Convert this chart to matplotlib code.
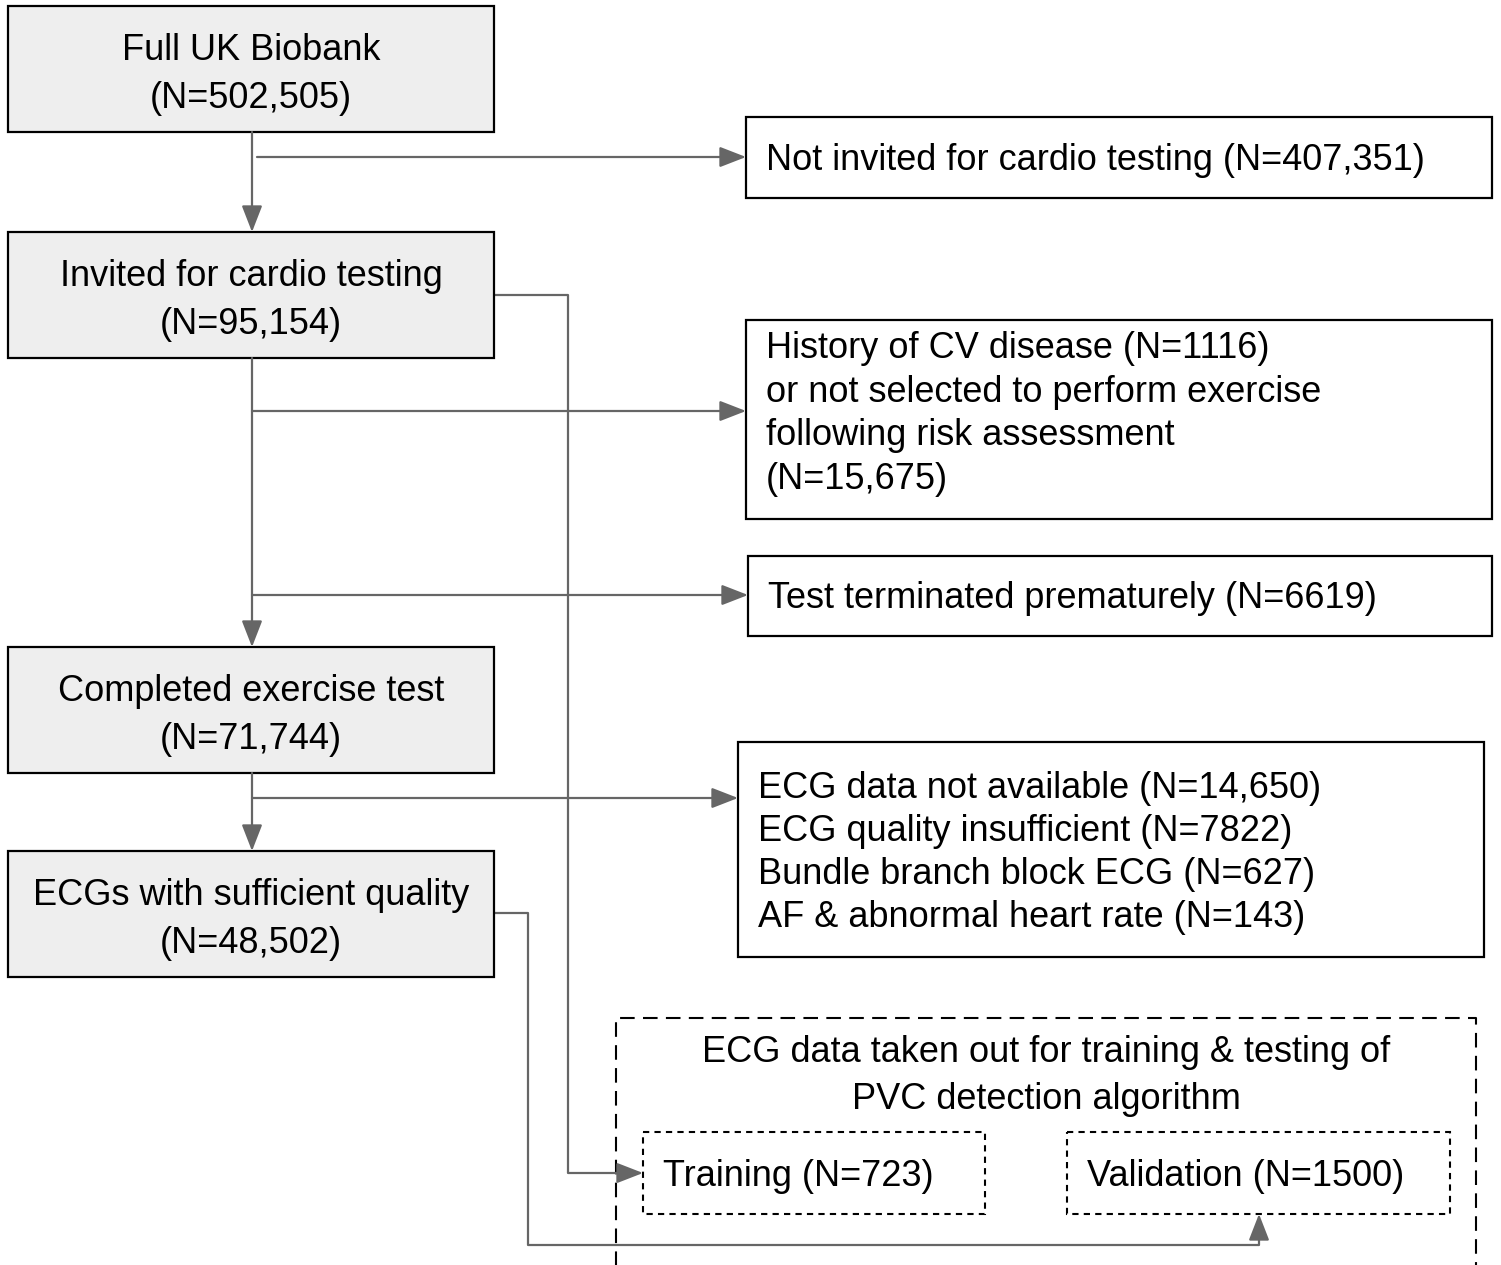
import matplotlib
matplotlib.use("Agg")
import matplotlib.pyplot as plt
from matplotlib.patches import Rectangle

plt.rcParams['font.family'] = ['Liberation Sans', 'DejaVu Sans']

# ---- flowchart text (data) ----
main_labels = ['Full UK Biobank\n(N=502,505)',
               'Invited for cardio testing\n(N=95,154)',
               'Completed exercise test\n(N=71,744)',
               'ECGs with sufficient quality\n(N=48,502)']
excl_labels = ['Not invited for cardio testing (N=407,351)',
               'History of CV disease (N=1116)\nor not selected to perform exercise\nfollowing risk assessment\n(N=15,675)',
               'Test terminated prematurely (N=6619)',
               'ECG data not available (N=14,650)\nECG quality insufficient (N=7822)\n'
               'Bundle branch block ECG (N=627)\nAF & abnormal heart rate (N=143)']
group_label = 'ECG data taken out for training & testing of\nPVC detection algorithm'
split_labels = ['Training (N=723)', 'Validation (N=1500)']

# ---- layout in pixel coords (x0, y0, x1, y1) ----
main_boxes = [(8, 6, 494, 132), (8, 232, 494, 358), (8, 647, 494, 773), (8, 851, 494, 977)]
excl_boxes = [(746, 117, 1492, 198), (746, 320, 1492, 519), (748, 556, 1492, 636), (738, 742, 1484, 957)]
excl_spacing = [1.25, 1.31, 1.25, 1.3]
excl_dy = [3, -5.5, 3, 3.5]
split_boxes = [(643, 1132, 985, 1214), (1067, 1132, 1450, 1214)]

W, H = 1501, 1265
fig = plt.figure(figsize=(W / 100, H / 100), dpi=100)
ax = fig.add_axes([0, 0, 1, 1])
ax.set_xlim(0, W)
ax.set_ylim(H, 0)
ax.axis('off')

FS = 26
LC = '#666666'


def box(b, fc='white', ls='-', lw=1.6):
    x0, y0, x1, y1 = b
    ax.add_patch(Rectangle((x0, y0), x1 - x0, y1 - y0, facecolor=fc,
                           edgecolor='black', lw=lw, linestyle=ls, zorder=2))


def arrow(pts):
    xs = [p[0] for p in pts]
    ys = [p[1] for p in pts]
    ax.plot(xs[:-1], ys[:-1], color=LC, lw=1.6, solid_capstyle='butt', zorder=1)
    ax.annotate('', xy=pts[-1], xytext=pts[-2],
                arrowprops=dict(arrowstyle='-|>,head_length=0.9,head_width=0.35',
                                color=LC, lw=1.6, shrinkA=0, shrinkB=0,
                                mutation_scale=18), zorder=3)


for b, lab in zip(main_boxes, main_labels):
    box(b, fc='#eeeeee')
    ax.text((b[0] + b[2]) / 2, (b[1] + b[3]) / 2 + 5.5, lab, ha='center', va='center',
            fontsize=FS, linespacing=1.5, zorder=4)

for b, lab, sp, dy in zip(excl_boxes, excl_labels, excl_spacing, excl_dy):
    box(b)
    ax.text(b[0] + 20, (b[1] + b[3]) / 2 + dy, lab, ha='left', va='center',
            fontsize=FS, linespacing=sp, zorder=4)

# dashed group box, open at the bottom
dash_long = (0, (7, 4))
ax.plot([616, 616, 1476, 1476], [H + 5, 1018, 1018, H + 5], color='black',
        lw=1.5, linestyle=dash_long, zorder=2)
ax.text(1046, 1076, group_label, ha='center', va='center', fontsize=FS,
        linespacing=1.41, zorder=4)

for b, lab in zip(split_boxes, split_labels):
    box(b, ls=(0, (3, 2.5)), lw=1.5)
    ax.text(b[0] + 20, (b[1] + b[3]) / 2 + 3, lab, ha='left', va='center',
            fontsize=FS, zorder=4)

# connectors
arrow([(252, 132), (252, 232)])
arrow([(257, 157), (746, 157)])
arrow([(252, 358), (252, 647)])
arrow([(252, 411), (746, 411)])
arrow([(252, 595), (748, 595)])
arrow([(252, 773), (252, 851)])
arrow([(252, 798), (738, 798)])
arrow([(494, 295), (568, 295), (568, 1173), (643, 1173)])
arrow([(494, 913), (528, 913), (528, 1245), (1259, 1245), (1259, 1214)])

fig.savefig('out.png', dpi=100, facecolor='white')
